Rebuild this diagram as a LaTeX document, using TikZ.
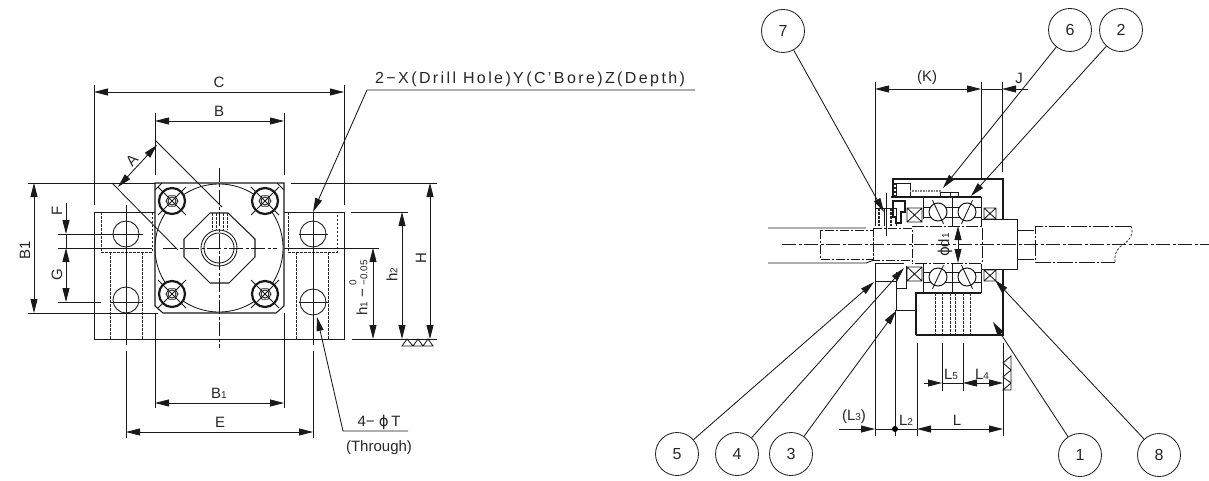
\documentclass[tikz,border=0pt]{standalone}
\usepackage{fontspec}
\setmainfont{Liberation Sans}
\newfontfamily\phifont{DejaVu Sans}
\newcommand{\smd}[1]{{\fontsize{10}{10}\selectfont #1}}
\newcommand{\phig}{{\phifont ϕ}}
\usetikzlibrary{arrows.meta}
\tikzset{
 ln/.style={line width=0.85pt,black!90},
 thickln/.style={line width=1.05pt,black!90},
 hd/.style={line width=0.75pt,black!85,dash pattern=on 2.5pt off 1.5pt},
 cl/.style={line width=0.8pt,black!90,dash pattern=on 14pt off 2.5pt on 3pt off 2.5pt},
 dimboth/.style={ln,{Triangle[length=14pt,width=7pt]}-{Triangle[length=14pt,width=7pt]}},
 dimend/.style={ln,-{Triangle[length=14pt,width=7pt]}},
 lab/.style={font=\fontsize{15}{15}\selectfont,text=black!85,inner sep=0pt},
 lablsm/.style={font=\fontsize{15}{15}\selectfont,text=black!85,inner sep=0pt},
 callout/.style={circle,draw=black!85,line width=0.85pt,minimum size=43pt,inner sep=0pt,font=\fontsize{16}{16}\selectfont,text=black!85},
}
\begin{document}
\begin{tikzpicture}[x=1pt,y=-1pt]
\useasboundingbox (0,0) rectangle (1209,481);
% ===== LEFT VIEW =====
\draw[ln] (155,212) -- (94,212) -- (94,339) -- (344,339) -- (344,212) -- (284,212);
\draw[thickln] (155,190) -- (155,306) -- (163,313) -- (276,313) -- (284,306) -- (284,183) -- (155,183) -- cycle;
\draw[ln] (155,190) -- (162,183) (284,190) -- (277,183);
\draw[ln] (219,248) circle (64);
\draw[thickln,fill=white] (210,213) -- (228,213) -- (255,239) -- (255,257) -- (229,283) -- (210,283) -- (184,257) -- (184,239) -- cycle;
\draw[ln] (219,248) circle (18) (219,248) circle (15);
\draw[hd] (212,213) -- (212,230) (216,213) -- (216,230) (223,213) -- (223,230) (227,213) -- (227,230);
\foreach \bx/\by in {172/201,265/201,172/294,265/294}{
  \fill[white] (\bx,\by) circle (13);
  \draw[line width=2.2pt,black!90] (\bx,\by) circle (13);
  \draw[ln] (\bx,\by) circle (4);
  \draw[ln] (\bx-6,\by) -- (\bx-3,\by-5.2) -- (\bx+3,\by-5.2) -- (\bx+6,\by) -- (\bx+3,\by+5.2) -- (\bx-3,\by+5.2) -- cycle;
  \draw[ln] (\bx-14,\by-14) -- (\bx+14,\by+14) (\bx-14,\by+14) -- (\bx+14,\by-14);
}
\foreach \hx/\hy in {126/234,126/300,313/234,313/302}{\draw[ln] (\hx,\hy) circle (13);}
\draw[hd] (101,212) -- (101,252) -- (152,252) -- (152,212);
\draw[hd] (110,252) -- (110,339) (142,252) -- (142,339);
\draw[hd] (288,212) -- (288,252) -- (337,252) -- (337,212);
\draw[hd] (296,252) -- (296,339) (328,252) -- (328,339);
\draw[cl] (219,168) -- (219,348);
\draw[cl] (163,248) -- (277,248);
\draw[ln] (126,205) -- (126,345) (126,351) -- (126,438);
\draw[ln] (313,212) -- (313,345) (313,351) -- (313,438);
\draw[ln] (155,113) -- (155,175) (284,113) -- (284,175) (155,313) -- (155,408) (284,313) -- (284,408);
\draw[ln] (94,85) -- (94,205) (344,85) -- (344,205);
\draw[ln] (28,183) -- (155,183) (291,183) -- (437,183) (28,313) -- (158,313);
\draw[ln] (351,212) -- (408,212) (352,339) -- (437,339) (284,248) -- (379,248);
\draw[ln] (58,234) -- (143,234) (58,248) -- (152,248) (58,302) -- (101,302) (110,302) -- (143,302) (299,234) -- (328,234) (299,302) -- (328,302);
\draw[dimboth] (94,92) -- (344,92);
\draw[dimboth] (155,121) -- (284,121);
\draw[dimboth] (155,403) -- (284,403);
\draw[dimboth] (126,432) -- (313,432);
\draw[dimboth] (34,183) -- (34,313);
\draw[dimboth] (66,248) -- (66,302);
\draw[dimend] (66,203) -- (66,234);
\draw[ln] (66,234) -- (66,248);
\draw[dimboth] (430,183) -- (430,339);
\draw[dimboth] (402,212) -- (402,339);
\draw[dimboth] (373,248) -- (373,339);
\draw[dimboth] (157,145) -- (118,187);
\draw[ln] (155,140) -- (222,207) (112,183) -- (178,250);
\draw[ln] (402,346) -- (433,346) -- (428,339) -- (423,346) -- (418,339) -- (413,346) -- (407,339) -- cycle;
\node[lab] (lC) at (219,82) {C};
\node[lab] (lB) at (219,111) {B};
\node[lab,rotate=48] (lA) at (132,160) {A};
\node[lab,rotate=90] (lBone) at (25,250) {B1};
\node[lab,rotate=90] (lF) at (57,211) {F};
\node[lab,rotate=90] (lG) at (57,275) {G};
\node[lab,rotate=90] (lH) at (421,258) {H};
\node[lab,rotate=90] (lh2) at (392,275) {h\smd{2}};
\node[lab,rotate=90] (lh1) at (362,302) {h\smd{1} −};
\node[font=\fontsize{10}{10}\selectfont,text=black!85,inner sep=0pt,rotate=90] (ltolu) at (353,283) {0};
\node[font=\fontsize{10}{10}\selectfont,text=black!85,inner sep=0pt,rotate=90] (ltoll) at (364,273) {−0.05};
\node[lab] (lBsub) at (219,393) {B\smd{1}};
\node[lab] (lE) at (220,422) {E};
\node[lab,anchor=west,font=\fontsize{16}{16}\selectfont\addfontfeature{LetterSpace=15}] (lX) at (375,79) {2−X(Drill Hole)Y(C'Bore)Z(Depth)};
\coordinate (xkink) at (367,90);
\coordinate (xend) at (695,90);
\coordinate (xtip) at (313,212);
\draw[dimend] (xend) -- (xkink) -- (xtip);
\coordinate (tkink) at (343,431);
\coordinate (tend) at (408,431);
\coordinate (ttip) at (317,317);
\draw[dimend] (tend) -- (tkink) -- (ttip);
\node[lab] (lT) at (379,422) {4− \phig\,T};
\node[lablsm] (lThrough) at (379,448) {(Through)};
% ===== RIGHT VIEW =====
\draw[cl] (782,244.5) -- (1209,244.5);
\draw[ln] (768,228) -- (866,228) (768,263) -- (866,263) -- (874,260);
\draw[cl,dash pattern=on 9pt off 2pt on 2pt off 2pt] (820,230) rectangle (873,259);
\draw[cl,dash pattern=on 9pt off 2pt on 2pt off 2pt] (873,228) -- (912,228) -- (912,263) (873,228) -- (873,260) -- (912,260);
\draw[cl,dash pattern=on 12pt off 2pt on 2pt off 2pt] (912,226) -- (982,226) -- (982,263) -- (912,263);
\draw[ln] (981,219) -- (1017,219) -- (1017,269) -- (981,269);
\draw[ln] (1017,230) -- (1034,230) (1017,259) -- (1034,259);
\draw[cl,dash pattern=on 16pt off 2pt on 2pt off 2pt] (1131,226) -- (1035,226) -- (1035,262) -- (1115,262);
\draw[hd] (1131,226) .. controls (1134,234) and (1130,240) .. (1124,244) .. controls (1118,247) and (1114,253) .. (1115,262);
% housing
\draw[thickln] (893,197) -- (893,179) -- (1003,179) -- (1003,219);
\draw[line width=1.3pt,black!90] (891,197) -- (981,197);
\draw[ln] (896,183) rectangle (910,196);
\draw[hd,line width=1.6pt] (895,183) -- (895,196);
\draw[line width=2.2pt,black!50,dash pattern=on 1pt off 0.6pt] (910,191) -- (942,191);
\draw[ln] (940,197) -- (940,192) -- (950,192) -- (950,197) (950,192) -- (958,192) -- (958,197);
\draw[ln] (923,197) -- (923,219) (952,197) -- (952,226) (981,197) -- (981,226);
\draw[ln] (923,293) -- (923,264) (952,264) -- (952,293) (981,264) -- (981,293);
\draw[thickln] (916,335) -- (916,293) -- (981,293) (916,335) -- (1003,335) -- (1003,269);
\draw[ln] (923,207) -- (981,207) (923,217) -- (981,217) (923,272) -- (981,272) (923,282) -- (981,282);
\foreach \ax/\ay/\ang in {938/212/65,967/212/115,938/277/115,967/277/65}{
  \fill[white] (\ax,\ay) circle (9);
  \draw[line width=1pt,black!90] (\ax,\ay) circle (9);
  \draw[ln] (\ax,\ay) ++(\ang:-13) -- ++(\ang:26);
}
\foreach \ca/\cb/\cc/\cd in {907/208/922/222,984/208/996/219,907/267/922/281,984/270/996/281}{
  \draw[ln] (\ca,\cb) rectangle (\cc,\cd) (\ca,\cb) -- (\cc,\cd) (\ca,\cd) -- (\cc,\cb);
}
% lock nut and collar
\draw[ln] (875,226) -- (875,208) -- (896,208) (896,208) -- (896,226) (884,208) -- (884,226);
\draw[hd,line width=1.4pt] (879,208) -- (879,226) (891,208) -- (891,226);
\draw[ln] (886,193) -- (886,236);
\draw[thickln] (893,208) -- (893,201) -- (905,201) -- (905,212) -- (901,212) -- (901,223) -- (896,223) -- (896,217) -- (893,217) -- cycle;
\draw[ln] (875,263) -- (904,263) (875,263) -- (875,281) -- (896,281);
\draw[ln] (896,272) -- (896,310) -- (916,310) (896,288) -- (906,288) -- (906,266);
\draw[hd] (935,293) -- (935,335) (942,293) -- (942,335) (950,293) -- (950,335) (955,293) -- (955,335) (963,293) -- (963,335) (970,293) -- (970,335);
% extension lines
\draw[ln] (875,82) -- (875,208) (875,281) -- (875,436);
\draw[ln] (981,82) -- (981,178) (1002,82) -- (1002,172);
\draw[ln] (895,310) -- (895,436) (917,343) -- (917,436) (1003,343) -- (1003,436);
\draw[ln] (942,343) -- (942,391) (963,343) -- (963,391);
% dimensions
\draw[dimboth] (875,89) -- (981,89);
\draw[dimend] (1028,89) -- (1002,89);
\draw[ln] (981,89) -- (1002,89);
\node[lab] (lK) at (927,78) {(K)};
\node[lab] (lJ) at (1019,78) {J};
\draw[dimboth] (958,226) -- (958,263);
\node[lab,rotate=90] (lphi) at (945,245) {\phig d\smd{1}};
\draw[dimboth] (917,429) -- (1003,429);
\draw[dimend] (839,429) -- (875,429);
\draw[ln] (875,429) -- (917,429);
\fill[black] (895,429) circle (3);
\draw[dimend] (924,383) -- (942,383);
\draw[dimboth] (963,383) -- (1003,383);
\draw[ln] (942,383) -- (963,383);
\draw[ln] (1011,356) -- (1003,363) -- (1011,370) -- (1003,377) -- (1011,383) -- (1003,390) -- (1011,390) -- cycle;
\node[lab] (lLfive) at (951,374) {L\smd{5}};
\node[lab] (lLfour) at (982,374) {L\smd{4}};
\node[lab] (lL) at (957,420) {L};
\node[lab] (lLtwo) at (906,420) {L\smd{2}};
\node[lab] (lLthree) at (854,417) {(L\smd{3})};
% callouts
\node[callout] (c7) at (783,31) {7};
\node[callout] (c6) at (1070,30) {6};
\node[callout] (c2) at (1121,30) {2};
\node[callout] (c5) at (677,454) {5};
\node[callout] (c4) at (737,454) {4};
\node[callout] (c3) at (791,454) {3};
\node[callout] (c1) at (1080,455) {1};
\node[callout] (c8) at (1159,455) {8};
\coordinate (t7) at (884,212);
\coordinate (t6) at (943,188);
\coordinate (t2) at (971,196);
\coordinate (t5) at (874,282);
\coordinate (t4) at (904,268);
\coordinate (t3) at (896,311);
\coordinate (t1) at (993,322);
\coordinate (t8) at (995,280);
\foreach \c in {7,6,2,5,4,3,1,8}{\draw[dimend] (c\c) -- (t\c);}
\end{tikzpicture}
\end{document}
